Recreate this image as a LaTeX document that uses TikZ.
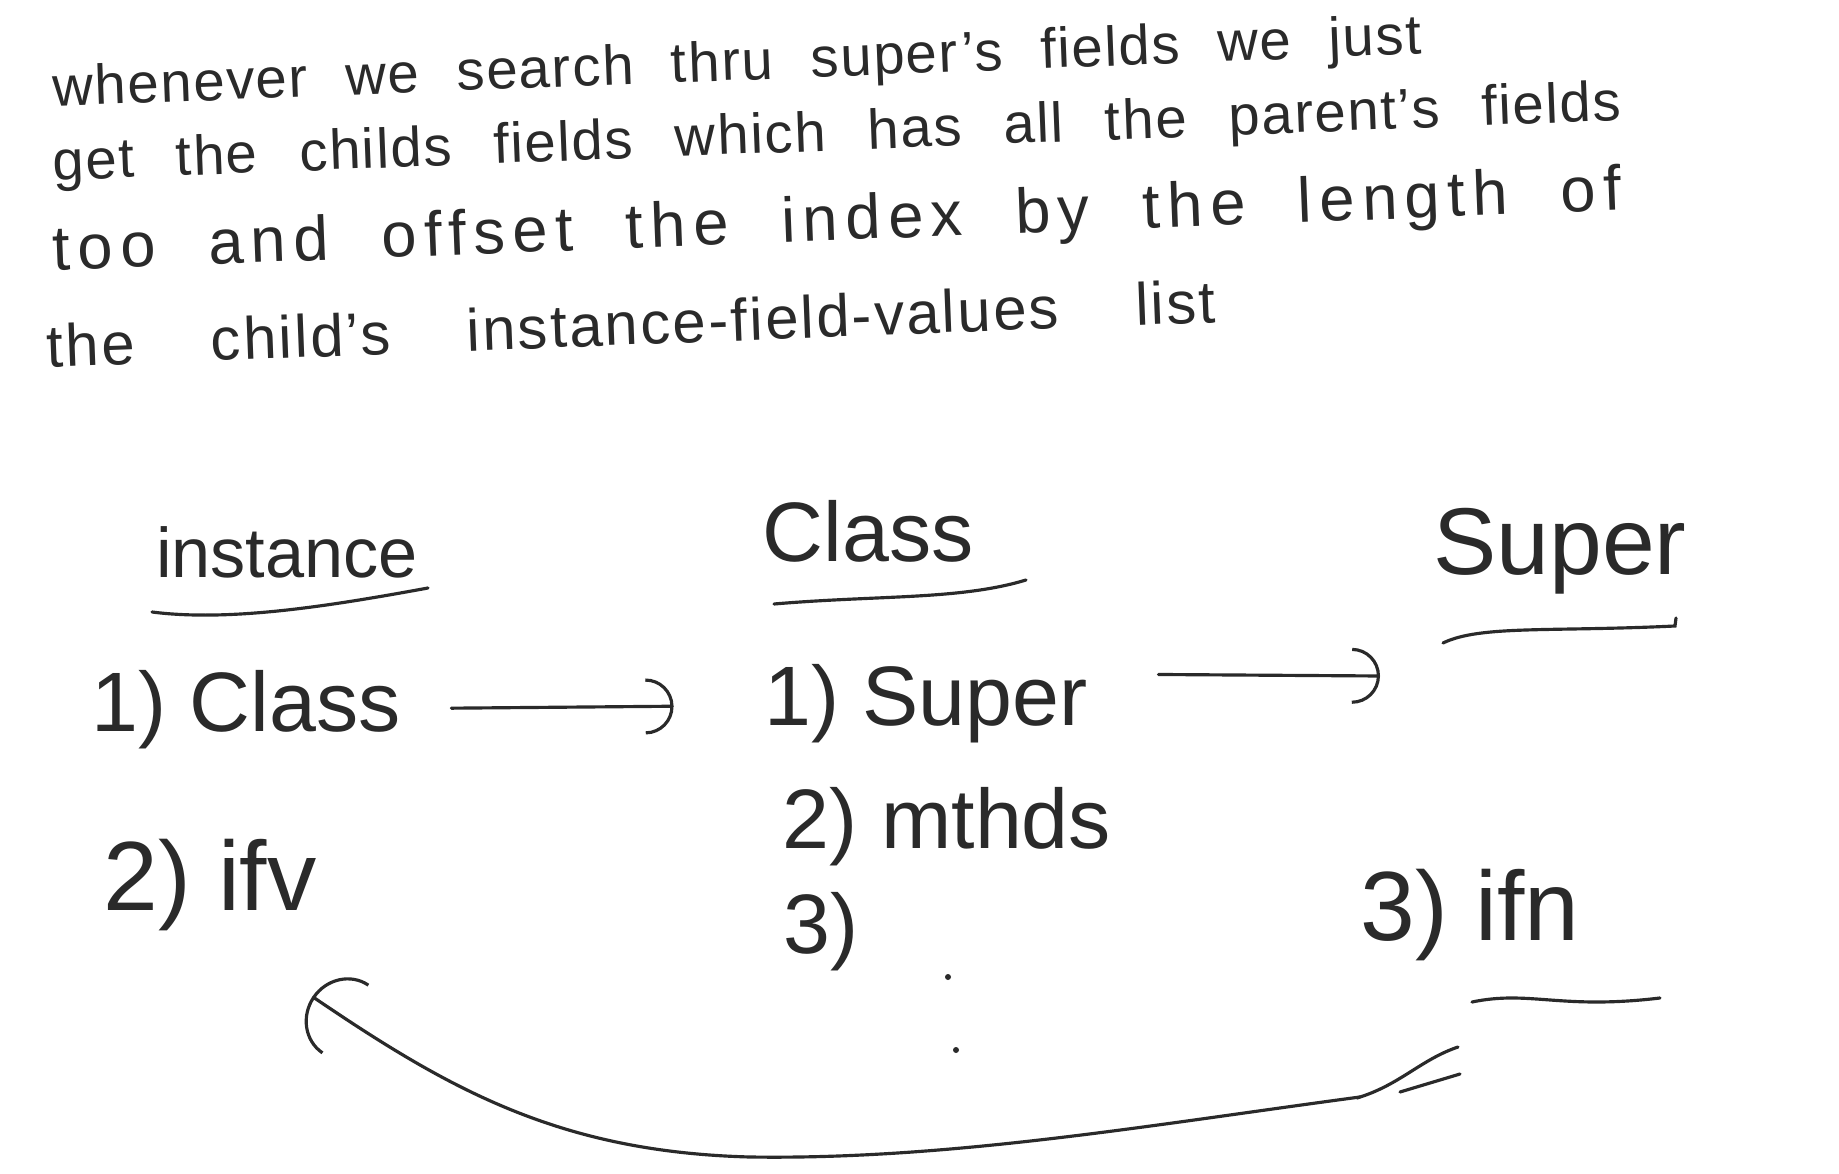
\documentclass[tikz,border=0pt]{standalone}
\usepackage{fontspec}
\setmainfont{Liberation Sans}
\usetikzlibrary{arrows.meta,calc}
\definecolor{ink}{HTML}{2A2A2A}
\tikzset{
    notetext/.style={
        anchor=west,
        inner sep=0pt,
        rotate=2.2,
        text=ink,
        font=\fontsize{16}{19}\selectfont
    },
    headtext/.style={
        inner sep=0pt,
        text=ink,
        font=\fontsize{24}{28}\selectfont
    },
    entrytext/.style={
        inner sep=0pt,
        text=ink,
        font=\fontsize{24}{28}\selectfont
    },
    inkline/.style={ink, line width=0.9pt, line cap=round},
    flow/.style={-{Arc Barb[length=2.8mm,width=5.6mm]}, inkline},
    backflow/.style={-{Arc Barb[length=4mm,width=8.5mm]}, inkline}
}
\newcommand{\spread}[2]{\makebox[#1][s]{#2}}

\begin{document}
\begin{tikzpicture}[x=0.1mm, y=-0.1mm]
    \useasboundingbox[fill=white] (0,0) rectangle (1839,1174);

    % note at the top
    \node[notetext, font=\fontsize{16}{19}\selectfont\addfontfeature{LetterSpace=3}] (line1) at (52,92)
        {\spread{137mm}{whenever we search thru super's fields we just}};
    \node[notetext, font=\fontsize{16}{19}\selectfont\addfontfeature{LetterSpace=3}] (line2) at (52,166)
        {\spread{157mm}{get the childs fields which has all the parent's fields}};
    \node[notetext, font=\fontsize{18}{22}\selectfont\addfontfeature{LetterSpace=12}] (line3) at (52,254)
        {\spread{157mm}{too and offset the index by the length of}};
    \node[notetext, font=\fontsize{17}{20}\selectfont\addfontfeature{LetterSpace=4}] (line4) at (46,346)
        {\spread{117mm}{the child's instance-field-values list}};

    % three columns
    \node[headtext, font=\fontsize{20}{24}\selectfont] (instHead) at (287,552) {instance};
    \node[headtext] (clsHead) at (868,531) {Class};
    \node[headtext, font=\fontsize{27}{32}\selectfont] (supHead) at (1560,551) {Super};

    \node[entrytext] (instClass) at (246,710) {1) Class};
    \node[entrytext, font=\fontsize{28}{32}\selectfont] (instIfv) at (210,885) {2) ifv};
    \node[entrytext] (clsSuper) at (926,704) {1) Super};
    \node[entrytext] (clsMthds) at (947,827) {2) mthds};
    \node[entrytext] (clsThree) at (821,932) {3)};
    \node[entrytext, font=\fontsize{28}{32}\selectfont] (supIfn) at (1470,915) {3) ifn};

    % underlines
    \draw[inkline] (152,612) .. controls (230,622) and (330,606) .. (428,588);
    \draw[inkline] (774,604) .. controls (880,595) and (960,600) .. (1026,580);
    \draw[inkline] (1443,643) .. controls (1480,625) and (1550,632) .. (1675,626) -- (1676,618);
    \draw[inkline] (1472,1002) .. controls (1530,990) and (1560,1010) .. (1660,998);
    \fill[ink] (948,977) circle (3);
    \fill[ink] (956,1050) circle (3);

    % links
    \draw[flow, shorten <=5mm, shorten >=9mm] (instClass) -- (clsSuper);
    \coordinate (supIn) at (1380,676);
    \draw[flow, shorten <=7mm] ([yshift=3mm]clsSuper.east) -- (supIn);
    \coordinate (retStart) at (1360,1097);
    \draw[backflow] (retStart) .. controls (1150,1125) and (950,1160) .. (750,1157)
        .. controls (560,1152) and (450,1090) .. ($(instIfv.south east)+(-5,65)$);
    \draw[inkline] (1357,1098) .. controls (1400,1085) and (1420,1060) .. (1458,1047);
    \draw[inkline] (1400,1092) -- (1460,1074);
\end{tikzpicture}
\end{document}
